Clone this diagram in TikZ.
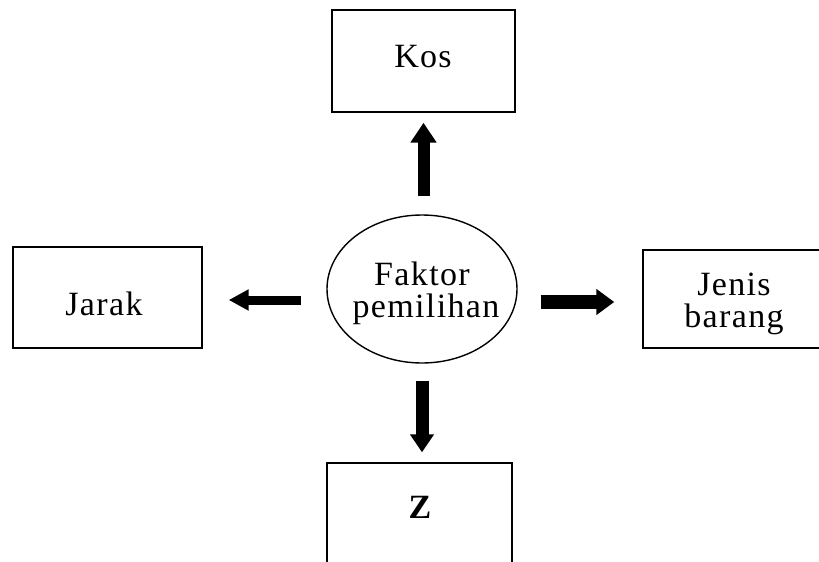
\documentclass[tikz,border=0pt]{standalone}
\usepackage{fontspec}
\setmainfont{Liberation Serif}[LetterSpace=4]
\usetikzlibrary{arrows.meta,shapes.geometric}
\begin{document}
\begin{tikzpicture}[x=1pt,y=-1pt,
  box/.style={draw,line width=1.4pt,inner sep=0pt},
  txt/.style={font=\fontsize{34}{36}\selectfont,inner sep=0pt,anchor=base},
  fat/.style n args={4}{line width=#1,-{Triangle[length=#3,width=#2]},shorten <=#4}]
\useasboundingbox (0,0) rectangle (819,562);
\clip (0,0) rectangle (819,562);
% boxes
\node[box,minimum width=183pt,minimum height=102pt] (kos) at (423.5,61) {};
\node[box,minimum width=189pt,minimum height=101pt] (jarak) at (107.5,297.5) {};
\node[box,minimum width=200pt,minimum height=98pt] (jenis) at (743,299) {};
\node[box,minimum width=185pt,minimum height=134pt] (zbox) at (419.5,530) {};
\node[draw,ellipse,line width=1.4pt,inner sep=0pt,minimum width=190pt,minimum height=148pt] (ell) at (422,289) {};
% texts
\node[txt] (kost) at (423,67) {Kos};
\node[txt] (jarakt) at (104,315) {Jarak};
\node[txt] (faktor) at (422,285) {Faktor};
\node[txt] (pemilihan) at (426,317) {pemilihan};
\node[txt] (jenist) at (734,295) {Jenis};
\node[txt] (barang) at (734,327) {barang};
\node[txt,font=\fontsize{34}{36}\selectfont\bfseries] (zt) at (420,518) {Z};
% arrows
\draw[fat={12pt}{25pt}{20pt}{18pt},shorten >=10pt] (ell.north -| kos.south) -- (kos.south);
\draw[fat={9pt}{20pt}{20pt}{25pt},shorten >=26pt] ([yshift=-2.5pt]jarak.east -| ell.west) -- ([yshift=-2.5pt]jarak.east);
\draw[fat={14pt}{25pt}{18pt}{23pt},shorten >=28pt] ([yshift=-3pt]jenis.west -| ell.east) -- ([yshift=-3pt]jenis.west);
\draw[fat={13pt}{23pt}{18pt}{17pt},shorten >=10pt] (ell.south) -- (ell.south |- zbox.north);
\end{tikzpicture}
\end{document}
